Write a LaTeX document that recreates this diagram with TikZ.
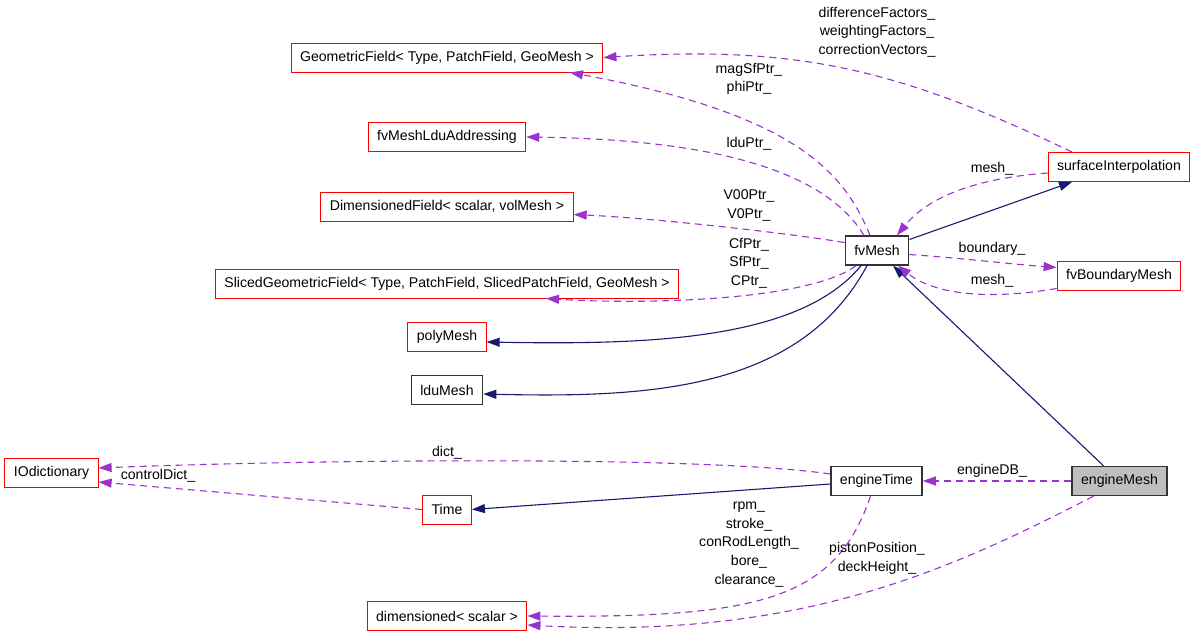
\documentclass[tikz,border=0pt]{standalone}
\usepackage{fontspec}
\setmainfont{Liberation Sans}
\usetikzlibrary{arrows.meta}
\definecolor{usecol}{HTML}{9A32CD}
\definecolor{inhcol}{HTML}{191970}

\begin{document}
\begin{tikzpicture}[x=1pt,y=-1pt]
        \tikzstyle{every node}=[font=\fontsize{14.1}{18.7}\selectfont]
        \tikzstyle{box}=[draw, rectangle, minimum height=29pt, inner xsep=9pt, inner ysep=0pt, line width=1pt]
        \tikzstyle{ext}=[box, draw=red]
        \tikzstyle{doc}=[box, draw=black!80, line width=1.4pt]
        \tikzstyle{cur}=[doc, fill=black!25]
        \tikzstyle{use}=[draw=usecol, line width=1.1pt, dash pattern=on 7pt off 5pt, -{Triangle[length=13pt,width=9pt]}]
        \tikzstyle{inh}=[draw=inhcol, line width=1.1pt, -{Triangle[length=13pt,width=9pt]}]
        \tikzstyle{lbl}=[align=center, inner sep=0pt]
        \useasboundingbox (0,0) rectangle (1195,637);

        % classes
        \node[ext] (geo) at (447,57.5) {GeometricField< Type, PatchField, GeoMesh >};
        \node[ext] (lduaddr) at (447,137) {fvMeshLduAddressing};
        \node[ext] (dimf) at (447,206.5) {DimensionedField< scalar, volMesh >};
        \node[ext] (sliced) at (447,283.5) {SlicedGeometricField< Type, PatchField, SlicedPatchField, GeoMesh >};
        \node[ext] (poly) at (447,337) {polyMesh};
        \node[doc] (ldu) at (447,390) {lduMesh};
        \node[ext] (iodict) at (51.5,473) {IOdictionary};
        \node[ext] (time) at (447,509.5) {Time};
        \node[ext] (dims) at (447,616) {dimensioned< scalar >};
        \node[doc] (fvmesh) at (877,250.5) {fvMesh};
        \node[ext] (surf) at (1119,167) {surfaceInterpolation};
        \node[ext] (fvb) at (1119,275.5) {fvBoundaryMesh};
        \node[doc] (etime) at (876.5,481) {engineTime};
        \node[cur] (emesh) at (1119.5,481) {engineMesh};

        % inheritance
        \draw[inh] ([xshift=-16pt]fvmesh.south) .. controls (800,340) and (650,345) .. ([yshift=-5pt]poly.east);
        \draw[inh] ([xshift=-10pt]fvmesh.south) .. controls (800,390) and (650,398) .. ([yshift=-4pt]ldu.east);
        \draw[inh] ([yshift=11pt]fvmesh.east) -- ([xshift=-47pt]surf.south);
        \draw[inh] ([xshift=-16pt]emesh.north) -- ([xshift=16pt]fvmesh.south);
        \draw[inh] ([yshift=-3pt]etime.west) -- (time.east);

        % usage
        \draw[use] ([xshift=-7pt]fvmesh.north) .. controls (845,175) and (800,115) .. ([xshift=123pt]geo.south);
        \draw[use] ([xshift=-47pt]surf.north) .. controls (900,70) and (800,45) .. (geo.east);
        \draw[use] ([xshift=-13pt]fvmesh.north) .. controls (830,180) and (740,140) .. (lduaddr.east);
        \draw[use] ([yshift=8pt]fvmesh.west) .. controls (780,232) and (650,218) .. ([yshift=-8pt]dimf.east);
        \draw[use] ([xshift=-21pt]fvmesh.south) .. controls (810,300) and (650,305) .. ([xshift=99pt]sliced.south);
        \draw[use] ([yshift=-6pt]surf.west) .. controls (980,178) and (930,195) .. ([xshift=20pt]fvmesh.north);
        \draw[use] ([yshift=-4pt]fvmesh.east) .. controls (960,258) and (1010,264) .. ([yshift=8pt]fvb.west);
        \draw[use] ([yshift=-13pt]fvb.west) .. controls (990,300) and (935,295) .. ([xshift=21pt]fvmesh.south);
        \draw[use] (emesh.west) -- (etime.east);
        \draw[use] ([yshift=7pt]etime.west) .. controls (700,455) and (300,460) .. ([yshift=5pt]iodict.east);
        \draw[use] (time.west) -- ([yshift=-9pt]iodict.east);
        \draw[use] ([xshift=-6pt]etime.south) .. controls (835,600) and (760,618) .. (dims.east);
        \draw[use] ([xshift=-26pt]emesh.south) .. controls (950,570) and (800,640) .. ([yshift=-9pt]dims.east);

        % labels
        \node[lbl] (lcorr) at (877,32) {differenceFactors\_\\weightingFactors\_\\correctionVectors\_};
        \node[lbl] (lmagsf) at (749,79) {magSfPtr\_\\phiPtr\_};
        \node[lbl] (lldu) at (749,144) {lduPtr\_};
        \node[lbl] (lvptr) at (749,205.5) {V00Ptr\_\\V0Ptr\_};
        \node[lbl] (lcptr) at (749,263) {CfPtr\_\\SfPtr\_\\CPtr\_};
        \node[lbl] (lmesha) at (992,169) {mesh\_};
        \node[lbl] (lbound) at (992,249) {boundary\_};
        \node[lbl] (lmeshb) at (992,281) {mesh\_};
        \node[lbl] (ldb) at (992,471) {engineDB\_};
        \node[lbl] (ldict) at (447,453) {dict\_};
        \node[lbl] (lctrl) at (158,476) {controlDict\_};
        \node[lbl] (lrpm) at (749,544.5) {rpm\_\\stroke\_\\conRodLength\_\\bore\_\\clearance\_};
        \node[lbl] (lpiston) at (877,558.5) {pistonPosition\_\\deckHeight\_};
\end{tikzpicture}
\end{document}
